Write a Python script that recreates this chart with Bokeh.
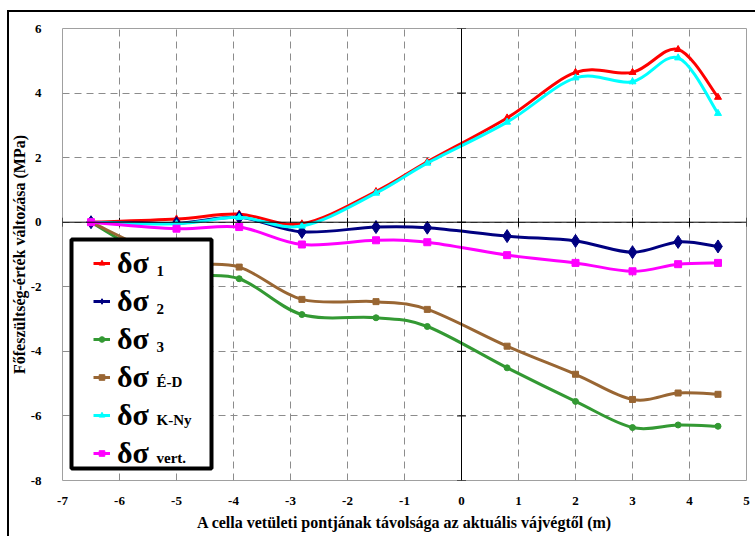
import numpy as np
from bokeh.plotting import figure
from bokeh.models import (Span, Legend, LegendItem, Label, FixedTicker, Range1d,
                          PrintfTickFormatter, InlineStyleSheet, BoxAnnotation)
from bokeh.embed import file_html
from bokeh.resources import INLINE

# ---- data ----
x_pos = [-6.5, -5.0, -3.9, -2.8, -1.5, -0.6, 0.8, 2.0, 3.0, 3.8, 4.5]
s1 = [0.0, 0.10, 0.25, -0.05, 0.95, 1.87, 3.23, 4.64, 4.64, 5.35, 3.87]
s2 = [0.0, -0.03, 0.15, -0.30, -0.15, -0.17, -0.43, -0.58, -0.93, -0.61, -0.75]
s3 = [0.0, -1.50, -1.75, -2.86, -2.96, -3.23, -4.51, -5.55, -6.36, -6.28, -6.32]
s_ed = [0.0, -1.20, -1.39, -2.39, -2.46, -2.70, -3.84, -4.71, -5.49, -5.29, -5.33]
s_kny = [0.0, -0.05, 0.15, -0.12, 0.90, 1.83, 3.10, 4.47, 4.35, 5.09, 3.37]
s_vert = [0.0, -0.20, -0.15, -0.69, -0.56, -0.62, -1.02, -1.26, -1.52, -1.30, -1.26]

series_names = ["1", "2", "3", "É-D", "K-Ny", "vert."]
x_ticks = [-7, -6, -5, -4, -3, -2, -1, 0, 1, 2, 3, 4, 5]
y_ticks = [-8, -6, -4, -2, 0, 2, 4, 6]

x_label = "A cella vetületi pontjának távolsága az aktuális vájvégtől (m)"
y_label = "Főfeszültség-érték változása (MPa)"

SERIF = "Liberation Serif"

border_css = InlineStyleSheet(css="""
:host::after {
  content: "";
  position: absolute;
  left: 7px; top: 10px;
  width: 760px; height: 560px;
  border: 2px solid black;
  pointer-events: none;
  z-index: 10;
}
""")

p = figure(width=755, height=536, output_backend="svg", toolbar_location=None,
           x_range=Range1d(-7, 5), y_range=Range1d(-8, 6),
           stylesheets=[border_css])
p.min_border = 0
p.min_border_left = 62
p.min_border_top = 28
p.min_border_right = 9
p.min_border_bottom = 56
p.background_fill_color = "white"
p.border_fill_color = "white"
p.outline_line_color = "#a0a0a0"
p.outline_line_width = 1

for ax in (p.xaxis[0], p.yaxis[0]):
    ax.axis_line_color = None
    ax.major_tick_line_color = None
    ax.minor_tick_line_color = None
    ax.major_label_text_font = SERIF
    ax.major_label_text_font_style = "bold"
    ax.major_label_text_font_size = "13px"
    ax.axis_label_text_font = SERIF
    ax.axis_label_text_font_style = "bold"
    ax.axis_label_text_font_size = "16px"
    ax.axis_label_text_color = "black"
    ax.major_label_text_color = "black"
    ax.formatter = PrintfTickFormatter(format="%d")

p.xaxis.ticker = FixedTicker(ticks=x_ticks)
p.yaxis.ticker = FixedTicker(ticks=y_ticks)
p.xaxis.axis_label = x_label
p.yaxis.axis_label = y_label
p.xaxis.major_label_standoff = 10
p.yaxis.major_label_standoff = 15
p.xaxis.axis_label_standoff = 6
p.yaxis.axis_label_standoff = 0

p.xgrid.ticker = FixedTicker(ticks=x_ticks)
p.ygrid.ticker = FixedTicker(ticks=y_ticks)
for g in (p.xgrid[0], p.ygrid[0]):
    g.grid_line_color = "#8c8c8c"
    g.grid_line_dash = "7 5"
    g.grid_line_width = 1

# zero axes
p.add_layout(Span(location=0, dimension="width", line_color="black", line_width=1))
p.add_layout(Span(location=0, dimension="height", line_color="black", line_width=1))
p.scatter(x=x_ticks, y=[0] * len(x_ticks), marker="dash", angle=np.pi / 2,
          size=9, line_color="black", line_width=1)
p.scatter(x=[0] * len(y_ticks), y=y_ticks, marker="dash",
          size=9, line_color="black", line_width=1)


def smooth(xs, ys):
    X = np.array(xs, float)
    Y = np.array(ys, float)
    Xp = np.concatenate([[X[0]], X, [X[-1]]])
    Yp = np.concatenate([[Y[0]], Y, [Y[-1]]])
    n = len(X)
    i = np.arange(n - 1)
    cx0 = X[i] + (Xp[i + 2] - Xp[i]) / 6
    cy0 = Y[i] + (Yp[i + 2] - Yp[i]) / 6
    cx1 = X[i + 1] - (Xp[i + 3] - Xp[i + 1]) / 6
    cy1 = Y[i + 1] - (Yp[i + 3] - Yp[i + 1]) / 6
    return dict(x0=X[:-1], y0=Y[:-1], x1=X[1:], y1=Y[1:],
                cx0=cx0, cy0=cy0, cx1=cx1, cy1=cy1)


styles = [
    (s1, "#ff0000", "triangle", 7),
    (s2, "#000080", "diamond", 13),
    (s3, "#339933", "circle", 6),
    (s_ed, "#996633", "square", 6),
    (s_kny, "#00ffff", "triangle", 7),
    (s_vert, "#ff00ff", "square", 7),
]

leg_items = []
for ys, col, mk, sz in styles:
    d = smooth(x_pos, ys)
    p.bezier(x0=d["x0"], y0=d["y0"], x1=d["x1"], y1=d["y1"],
             cx0=d["cx0"], cy0=d["cy0"], cx1=d["cx1"], cy1=d["cy1"],
             line_color=col, line_width=3)
    p.scatter(x=x_pos, y=ys, marker=mk, size=sz, fill_color=col, line_color=col)
    # legend-only renderers (no data drawn)
    r1 = p.line(x=[np.nan], y=[np.nan], line_color=col, line_width=3)
    r2 = p.scatter(x=[np.nan], y=[np.nan], marker=mk, size=sz,
                   fill_color=col, line_color=col)
    leg_items.append(LegendItem(label="δσ", renderers=[r1, r2]))

# legend frame (white box with thick black border)
p.add_layout(BoxAnnotation(left=9, right=149, bottom=12, top=241,
                           left_units="screen", right_units="screen",
                           top_units="screen", bottom_units="screen",
                           fill_color="white", fill_alpha=1,
                           line_color="black", line_width=4, line_alpha=1))

legend = Legend(items=leg_items, location=(31, 8))
legend.border_line_color = None
legend.background_fill_alpha = 0
legend.label_text_font = SERIF
legend.label_text_font_style = "bold"
legend.label_text_font_size = "30px"
legend.label_text_color = "black"
legend.glyph_width = 17
legend.glyph_height = 14
legend.label_height = 38
legend.label_width = 40
legend.spacing = 0
legend.padding = 0
legend.margin = 0
legend.label_standoff = 7
legend.label_text_baseline = "middle"
p.add_layout(legend, "center")

# subscripts for legend entries
for k, name in enumerate(series_names):
    p.add_layout(Label(x=94, y=205 - 38 * k, x_units="screen", y_units="screen",
                       text=name, text_font=SERIF, text_font_style="bold",
                       text_font_size="15px", text_color="black"))

open("out.html", "w").write(file_html(p, INLINE))
